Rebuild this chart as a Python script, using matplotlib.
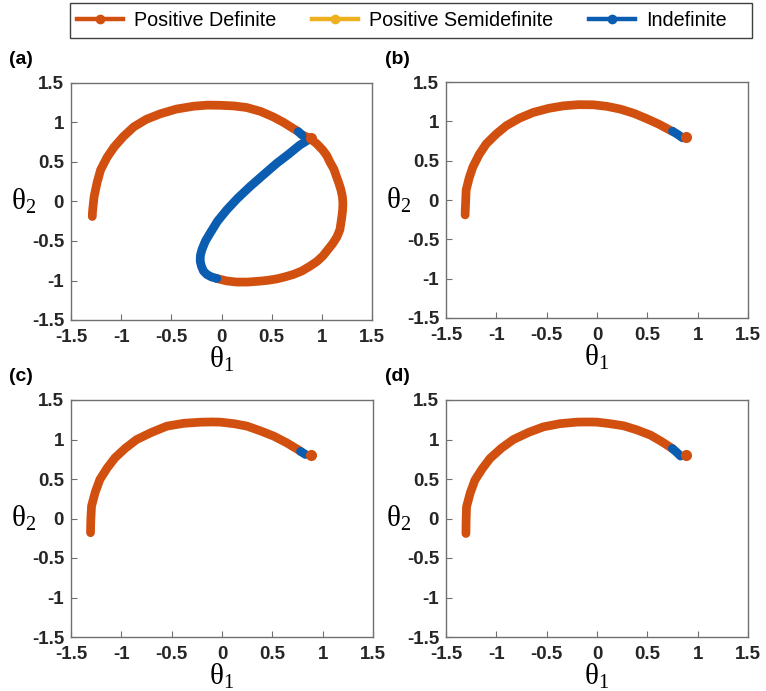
import matplotlib
matplotlib.use("Agg")
import matplotlib.pyplot as plt
from matplotlib.lines import Line2D
from matplotlib.patches import Rectangle

# ---------------- data ----------------
# Panel (a)
a_pd_x = [-1.288, -1.285, -1.28, -1.27, -1.24, -1.205, -1.14, -1.07, -0.98, -0.874, -0.75, -0.61, -0.45, -0.278,
          -0.14, -0.013, 0.12, 0.25, 0.39, 0.517, 0.62, 0.715, 0.765]
a_pd_y = [-0.19, -0.12, -0.06, 0.06, 0.24, 0.40, 0.56, 0.69, 0.82, 0.945, 1.04, 1.11, 1.17, 1.206,
          1.22, 1.218, 1.21, 1.19, 1.14, 1.07, 1.0, 0.924, 0.885]
a_pd2_x = [0.80, 0.88, 0.95, 1.01, 1.05, 1.08, 1.12, 1.146, 1.17, 1.19, 1.205, 1.21, 1.207, 1.20, 1.18, 1.15,
           1.11, 1.06, 1.01, 0.95, 0.88, 0.80, 0.715, 0.63, 0.55, 0.46, 0.384, 0.26, 0.152, 0.05, -0.046]
a_pd2_y = [0.845, 0.80, 0.73, 0.65, 0.58, 0.50, 0.41, 0.315, 0.23, 0.15, 0.06, -0.02, -0.11, -0.19, -0.357, -0.45,
           -0.53, -0.61, -0.69, -0.76, -0.82, -0.88, -0.924, -0.955, -0.98, -0.998, -1.008, -1.02, -1.02, -1.005, -0.975]
a_ind_x = [-0.046, -0.10, -0.146, -0.18, -0.20, -0.212, -0.212, -0.21, -0.195, -0.16, -0.113, -0.04, 0.053, 0.16,
           0.285, 0.42, 0.55, 0.67, 0.78, 0.864]
a_ind_y = [-0.975, -0.955, -0.924, -0.88, -0.82, -0.756, -0.72, -0.68, -0.609, -0.50, -0.40, -0.25, -0.105, 0.04,
           0.19, 0.34, 0.483, 0.60, 0.714, 0.78]
a_ind2_x = [0.765, 0.80]
a_ind2_y = [0.885, 0.845]
a_end_x, a_end_y = 0.895, 0.80

# Panel (b)
b_pd_x = [-1.31, -1.308, -1.305, -1.30, -1.27, -1.233, -1.17, -1.10, -1.00, -0.90, -0.77, -0.633, -0.48, -0.333,
          -0.18, -0.033, 0.10, 0.233, 0.37, 0.50, 0.62, 0.733, 0.75]
b_pd_y = [-0.19, -0.11, -0.03, 0.126, 0.28, 0.42, 0.58, 0.714, 0.84, 0.945, 1.04, 1.113, 1.165, 1.197,
          1.212, 1.21, 1.19, 1.155, 1.10, 1.03, 0.96, 0.882, 0.874]
b_ind_x = [0.75, 0.80, 0.85]
b_ind_y = [0.874, 0.835, 0.79]
b_end_x, b_end_y = 0.883, 0.807

# Panel (c)
c_pd_x = [-1.306, -1.305, -1.303, -1.296, -1.26, -1.213, -1.14, -1.063, -0.96, -0.847, -0.70, -0.548, -0.38,
          -0.216, -0.10, -0.017, 0.12, 0.249, 0.38, 0.515, 0.64, 0.764, 0.78]
c_pd_y = [-0.18, -0.10, -0.01, 0.156, 0.33, 0.494, 0.64, 0.768, 0.89, 1.0, 1.09, 1.169, 1.205, 1.219,
          1.222, 1.22, 1.20, 1.169, 1.11, 1.042, 0.96, 0.865, 0.85]
c_ind_x = [0.78, 0.83]
c_ind_y = [0.85, 0.81]
c_end_x, c_end_y = 0.88, 0.81

# Panel (d)
d_pd_x = [-1.302, -1.301, -1.30, -1.296, -1.26, -1.213, -1.14, -1.063, -0.95, -0.83, -0.68, -0.532, -0.37, -0.20,
          -0.10, 0.0, 0.13, 0.266, 0.40, 0.532, 0.64, 0.748]
d_pd_y = [-0.19, -0.10, -0.02, 0.148, 0.32, 0.485, 0.63, 0.76, 0.89, 1.0, 1.09, 1.16, 1.20, 1.22,
          1.222, 1.22, 1.20, 1.173, 1.12, 1.055, 0.975, 0.886]
d_ind_x = [0.748, 0.79, 0.83]
d_ind_y = [0.886, 0.84, 0.79]
d_end_x, d_end_y = 0.88, 0.81

ticks = [-1.5, -1, -0.5, 0, 0.5, 1, 1.5]
tick_labels = ["-1.5", "-1", "-0.5", "0", "0.5", "1", "1.5"]
legend_labels = ["Positive Definite", "Positive Semidefinite", "Indefinite"]
panel_labels = ["(a)", "(b)", "(c)", "(d)"]

# ---------------- style ----------------
C_PD = "#D2500F"
C_PSD = "#EDB120"
C_IND = "#0A5DB0"
LW = 6.3

fig = plt.figure(figsize=(7.66, 6.91), dpi=100)
W, H = 766, 691

def add_axes(left, top, right, bottom):
    return fig.add_axes([left / W, 1 - bottom / H, (right - left) / W, (bottom - top) / H])

axes = [
    add_axes(71, 83, 372, 320),
    add_axes(446, 82, 748, 318),
    add_axes(71, 400, 373, 637),
    add_axes(446, 400, 748, 637),
]

panels = [
    [(a_pd_x, a_pd_y, C_PD), (a_pd2_x, a_pd2_y, C_PD), (a_ind_x, a_ind_y, C_IND), (a_ind2_x, a_ind2_y, C_IND)],
    [(b_pd_x, b_pd_y, C_PD), (b_ind_x, b_ind_y, C_IND)],
    [(c_pd_x, c_pd_y, C_PD), (c_ind_x, c_ind_y, C_IND)],
    [(d_pd_x, d_pd_y, C_PD), (d_ind_x, d_ind_y, C_IND)],
]
ends = [(a_end_x, a_end_y), (b_end_x, b_end_y), (c_end_x, c_end_y), (d_end_x, d_end_y)]

for ax, segs, (ex, ey) in zip(axes, panels, ends):
    for xs, ys, col in segs:
        ax.plot(xs, ys, color=col, lw=LW, solid_capstyle="round", solid_joinstyle="round")
    ax.plot([ex], [ey], "o", color=C_PD, ms=8, mec="none")
    ax.set_xlim(-1.5, 1.5)
    ax.set_ylim(-1.5, 1.5)
    ax.set_xticks(ticks)
    ax.set_yticks(ticks)
    ax.set_xticklabels(tick_labels)
    ax.set_yticklabels(tick_labels)
    ax.tick_params(direction="in", length=4, width=0.8, color="#707070", labelsize=13.5,
                   labelcolor="#262626")
    ax.tick_params(axis="x", pad=6.5)
    ax.tick_params(axis="y", pad=5)
    for lbl in ax.get_xticklabels() + ax.get_yticklabels():
        lbl.set_fontweight("bold")
        lbl.set_fontfamily("Liberation Sans")
    for sp in ax.spines.values():
        sp.set_color("#707070")
        sp.set_linewidth(1.0)
    ax.set_xlabel(r"$\mathregular{θ_1}$", fontsize=21, family="Liberation Serif", va="top")
    ax.xaxis.set_label_coords(0.5, -0.105)
    ax.set_ylabel(r"$\mathregular{θ_2}$", fontsize=21, family="Liberation Serif", rotation=0,
                  va="center", ha="center")
    ax.yaxis.set_label_coords(-0.158, 0.5)

kw = dict(fontsize=14, fontweight="bold", family="Liberation Sans", va="center")
fig.text(9 / W, 1 - 60 / H, panel_labels[0], **kw)
fig.text(385 / W, 1 - 60 / H, panel_labels[1], **kw)
fig.text(9 / W, 1 - 377 / H, panel_labels[2], **kw)
fig.text(385 / W, 1 - 377 / H, panel_labels[3], **kw)

# legend box
fig.patches.append(Rectangle((70 / W, 1 - 38 / H), (752 - 70) / W, 35 / H, transform=fig.transFigure,
                             facecolor="white", edgecolor="#404040", lw=1.0, zorder=1))
handles = [Line2D([], [], color=c, lw=3.2, marker="o", ms=6) for c in (C_PD, C_PSD, C_IND)]
leg = fig.legend(handles, legend_labels, loc="center left", bbox_to_anchor=(77 / W, 1 - 20.5 / H), ncol=3,
                 frameon=False, prop={"family": "Liberation Sans", "size": 14.2}, handlelength=2.35,
                 handletextpad=0.55, columnspacing=1.8, borderpad=0, borderaxespad=0)
leg.set_zorder(2)

fig.savefig("out.png", dpi=100)
